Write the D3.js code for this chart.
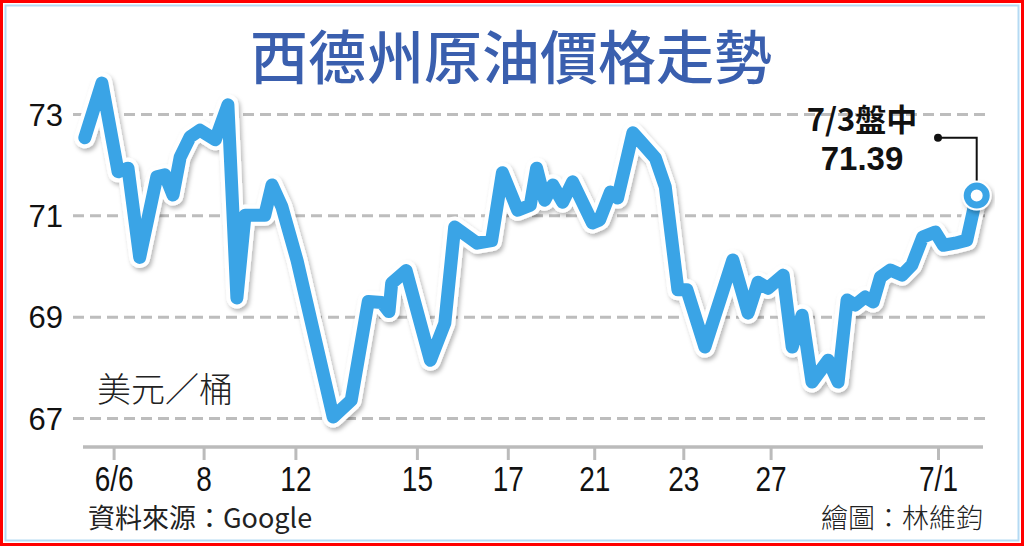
<!DOCTYPE html>
<html><head><meta charset="utf-8">
<script src="https://cdn.jsdelivr.net/npm/d3@7"></script>
<style>html,body{margin:0;padding:0;background:#fff;}svg{display:block;}</style>
</head><body>
<script>
// ---- data ----
const title = "西德州原油價格走勢";
const unitLabel = "美元／桶";
const sourceLabel = "資料來源：Google";
const creditLabel = "繪圖：林維鈞";
const annotLine1 = "7/3盤中";
const annotLine2 = "71.39";
// time position (trading-session units along the axis) and price (USD/barrel)
const xPos = [0.2,2.1,3.9,5.0,6.3,8.2,9.1,10.0,10.8,11.9,13.0,14.7,16.1,17.1,18.0,20.2,21.0,22.1,23.8,27.8,29.8,31.7,33.2,34.0,34.3,35.9,38.6,40.2,41.3,43.8,45.4,46.6,48.3,49.7,50.4,51.3,52.2,53.3,54.4,56.6,57.4,58.6,59.4,61.1,62.1,63.6,64.7,66.1,67.1,69.1,72.2,73.9,75.0,76.1,77.8,78.8,79.9,81.0,82.8,83.9,84.9,85.8,86.9,87.8,88.6,89.7,91.0,92.1,93.3,94.7,95.6,96.9,98.2,99.3];
const price = [72.53,73.61,71.86,71.93,70.17,71.76,71.80,71.40,72.15,72.55,72.68,72.49,73.18,69.37,71.00,71.00,71.60,71.17,70.10,67.02,67.35,69.30,69.28,69.10,69.66,69.91,68.14,68.87,70.77,70.45,70.50,71.84,71.10,71.20,71.93,71.30,71.60,71.26,71.66,70.85,70.91,71.46,71.34,72.63,72.43,72.13,71.56,69.53,69.53,68.40,70.12,69.07,69.68,69.56,69.82,68.40,69.03,67.71,68.14,67.71,69.33,69.23,69.39,69.29,69.78,69.92,69.82,70.02,70.57,70.67,70.41,70.45,70.51,71.39];
const xTickPos = [3.4,13.4,23.6,37.1,47.2,56.8,66.7,76.4,95.0];
const xTickLabels = ["6/6","8","12","15","17","21","23","27","7/1"];
const yTicks = [67,69,71,73];
const annotLevel = 72.53;   // price level of the callout leader
const annotXPos = 95.0;     // axis position of the callout dot

// ---- layout ----
const W = 1024, H = 546;
const svg = d3.select("body").append("svg").attr("width", W).attr("height", H);

const x = d3.scaleLinear().domain([0, 100]).range([83, 983]);
const y = d3.scaleLinear().domain([67, 73]).range([418, 114]);

// frame
svg.append("rect").attr("x",0).attr("y",0).attr("width",W).attr("height",H).attr("fill","#f00");
svg.append("rect").attr("x",3).attr("y",3).attr("width",W-6).attr("height",H-6).attr("fill","#fff");
svg.append("rect").attr("x",5.5).attr("y",5.5).attr("width",W-11).attr("height",H-11)
  .attr("fill","none").attr("stroke","#b5daf3").attr("stroke-width",2);

const defs = svg.append("defs");
const f = defs.append("filter").attr("id","sh").attr("x","-10%").attr("y","-10%").attr("width","120%").attr("height","130%");
f.append("feDropShadow").attr("dx",2).attr("dy",3).attr("stdDeviation",2).attr("flood-color","#000").attr("flood-opacity",0.28);

// title
svg.append("text").attr("x", 511).attr("y", 54).attr("text-anchor","middle")
  .attr("dominant-baseline","central")
  .attr("font-family","'Noto Sans CJK TC','Noto Sans CJK SC',sans-serif").attr("font-weight",500)
  .attr("font-size",58).attr("fill","#3a5fae").text(title);

// gridlines
const yAxis = d3.axisLeft(y).tickValues(yTicks).tickSize(-(985-73)).tickPadding(10).tickFormat(d3.format("d"));
const gy = svg.append("g").attr("transform","translate(73,0)").call(yAxis);
gy.select(".domain").remove();
gy.selectAll(".tick line").attr("stroke","#bdbdbd").attr("stroke-width",3).attr("stroke-dasharray","11 6");
gy.selectAll(".tick text").attr("font-family","'Liberation Sans',Arial,sans-serif").attr("font-size",31)
  .attr("fill","#111").attr("x",-10).attr("dy","0.36em");

// x axis
const xAxis = d3.axisBottom(x).tickValues(xTickPos).tickFormat((d,i)=>xTickLabels[i]).tickSize(13).tickPadding(4);
const gx = svg.append("g").attr("transform","translate(0,447)").call(xAxis);
gx.select(".domain").attr("stroke","#bbbbbb").attr("stroke-width",3.5).attr("d","M83,0H983");
gx.selectAll(".tick line").attr("stroke","#bbbbbb").attr("stroke-width",3);
gx.selectAll(".tick text").attr("font-family","'Liberation Sans',Arial,sans-serif")
  .attr("font-size",35).attr("fill","#111").attr("y",0)
  .attr("transform","translate(0,44) scale(0.8,1)").attr("dy",0);

// unit, source, credit
svg.append("text").attr("x",97).attr("y",387).attr("dominant-baseline","central")
  .attr("font-family","'Noto Sans CJK TC',sans-serif").attr("font-weight",300).attr("font-size",34)
  .attr("fill","#222").text(unitLabel);
svg.append("text").attr("x",88).attr("y",516).attr("dominant-baseline","central")
  .attr("font-family","'Noto Sans CJK TC',sans-serif").attr("font-weight",400).attr("font-size",27)
  .attr("fill","#222").text(sourceLabel);
svg.append("text").attr("x",983).attr("y",516).attr("dominant-baseline","central").attr("text-anchor","end")
  .attr("font-family","'Noto Sans CJK TC',sans-serif").attr("font-weight",300).attr("font-size",27)
  .attr("fill","#222").text(creditLabel);

// line
const pts = xPos.map((d,i)=>[d, price[i]]);
const line = d3.line().x(d=>x(d[0])).y(d=>y(d[1]));
svg.append("path").datum(pts).attr("d",line).attr("fill","none").attr("stroke","#fff")
  .attr("stroke-width",21).attr("stroke-linejoin","round").attr("stroke-linecap","round").attr("filter","url(#sh)");
svg.append("path").datum(pts).attr("d",line).attr("fill","none").attr("stroke","#3aa4e6")
  .attr("stroke-width",13).attr("stroke-linejoin","round").attr("stroke-linecap","round");

// callout
const last = pts[pts.length-1];
svg.append("path").attr("d", `M${x(annotXPos)},${y(annotLevel)}H${x(last[0])}V${y(last[1])}`)
  .attr("fill","none").attr("stroke","#111").attr("stroke-width",2);
svg.append("circle").attr("cx",x(annotXPos)).attr("cy",y(annotLevel)).attr("r",4).attr("fill","#111");
svg.append("circle").attr("cx",x(last[0])).attr("cy",y(last[1])).attr("r",15).attr("fill","#fff").attr("filter","url(#sh)");
svg.append("circle").attr("cx",x(last[0])).attr("cy",y(last[1])).attr("r",9.5).attr("fill","#fff")
  .attr("stroke","#3aa4e6").attr("stroke-width",7);

svg.append("text").attr("x",862).attr("y",117).attr("text-anchor","middle").attr("dominant-baseline","central")
  .attr("font-family","'Noto Sans CJK TC',sans-serif").attr("font-weight",700).attr("font-size",31)
  .attr("fill","#111").text(annotLine1);
svg.append("text").attr("x",862).attr("y",158).attr("text-anchor","middle").attr("dominant-baseline","central")
  .attr("font-family","'Liberation Sans',Arial,sans-serif").attr("font-weight",700).attr("font-size",33)
  .attr("fill","#111").text(annotLine2);
</script>
</body></html>
